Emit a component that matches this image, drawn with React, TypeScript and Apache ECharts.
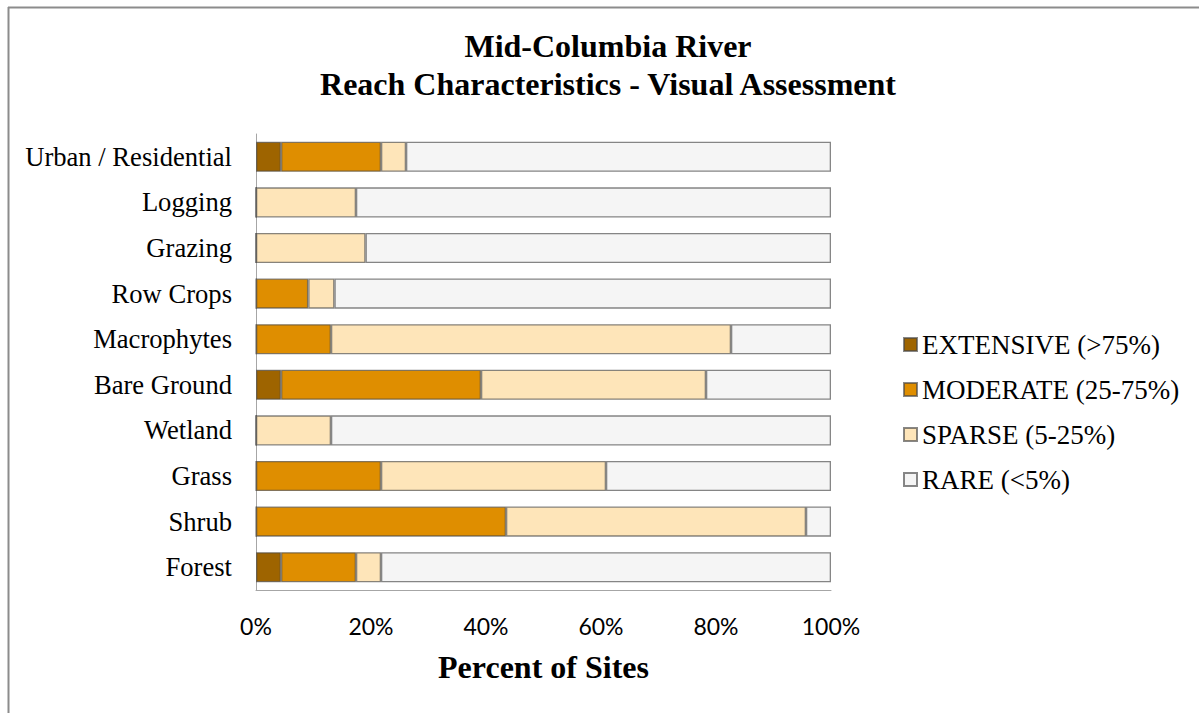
import React, { useEffect, useRef } from "react";
import * as echarts from "echarts";

const categories = [
  "Urban / Residential",
  "Logging",
  "Grazing",
  "Row Crops",
  "Macrophytes",
  "Bare Ground",
  "Wetland",
  "Grass",
  "Shrub",
  "Forest",
];

const extensive = [4.35, 0, 0, 0, 0, 4.35, 0, 0, 0, 4.35];
const moderate = [17.39, 0, 0, 9.09, 13.04, 34.78, 0, 21.74, 43.48, 13.04];
const sparse = [4.35, 17.39, 19.05, 4.55, 69.57, 39.13, 13.04, 39.13, 52.17, 4.35];
const rare = [73.91, 82.61, 80.95, 86.36, 17.39, 21.74, 86.96, 39.13, 4.35, 78.26];

const xTicks = [0, 20, 40, 60, 80, 100];

const seriesNames = ["EXTENSIVE (>75%)", "MODERATE (25-75%)", "SPARSE (5-25%)", "RARE (<5%)"];
const seriesColors = ["#9E6400", "#DF8E00", "#FEE5B9", "#F5F5F5"];
const seriesData = [extensive, moderate, sparse, rare];

const SERIF = "'Liberation Serif', 'Times New Roman', serif";
const SANS = "Lato, 'Liberation Sans', sans-serif";

export default function App() {
  const ref = useRef<HTMLDivElement>(null);
  useEffect(() => {
    if (!ref.current) return;
    const chart = echarts.init(ref.current, null, { renderer: "svg" });
    chart.setOption({
      animation: false,
      backgroundColor: "#ffffff",
      title: {
        text: "Mid-Columbia River\nReach Characteristics - Visual Assessment",
        left: 603,
        top: 22,
        textAlign: "center",
        textStyle: {
          fontFamily: SERIF,
          fontSize: 32,
          fontWeight: "bold",
          lineHeight: 38,
          color: "#000",
        },
      },
      legend: {
        orient: "vertical",
        left: 898,
        top: 326,
        itemWidth: 13,
        itemHeight: 13,
        itemGap: 18,
        icon: "rect",
        textStyle: { fontFamily: SERIF, fontSize: 27, lineHeight: 27, color: "#000", padding: [0, 0, 0, 0] },
        data: seriesNames,
      },
      grid: { left: 256, right: 368, top: 134, bottom: 123, containLabel: false },
      xAxis: {
        type: "value",
        min: 0,
        max: 100,
        interval: 20,
        axisLine: { show: true, lineStyle: { color: "#a6a6a6", width: 1 } },
        axisTick: { show: false },
        splitLine: { show: false },
        axisLabel: {
          formatter: (v: number) => (xTicks.includes(v) ? v + "%" : ""),
          fontFamily: SANS,
          fontSize: 23,
          color: "#000",
          margin: 24,
        },
        name: "Percent of Sites",
        nameLocation: "middle",
        nameGap: 61,
        nameTextStyle: { fontFamily: SERIF, fontSize: 32, fontWeight: "bold", color: "#000" },
      },
      yAxis: {
        type: "category",
        data: categories,
        inverse: true,
        axisLine: { show: true, lineStyle: { color: "#a6a6a6", width: 1 } },
        axisTick: { show: false },
        axisLabel: { fontFamily: SERIF, fontSize: 26.6, color: "#000", margin: 24 },
      },
      series: seriesNames.map((name, i) => ({
        name,
        type: "bar",
        stack: "total",
        barCategoryGap: "34%",
        data: seriesData[i],
        itemStyle: {
          color: seriesColors[i],
          borderColor: "rgba(70,70,70,0.65)",
          borderWidth: 1.3,
        },
      })),
      graphic: [
        {
          type: "line",
          shape: { x1: 8, y1: 7.5, x2: 1199, y2: 7.5 },
          style: { stroke: "#8c8c8c", lineWidth: 2 },
        },
        {
          type: "line",
          shape: { x1: 8.5, y1: 7, x2: 8.5, y2: 713 },
          style: { stroke: "#8c8c8c", lineWidth: 2 },
        },
      ],
    });
    return () => chart.dispose();
  }, []);
  return (
    <div
      ref={ref}
      style={{ position: "fixed", left: 0, top: 0, width: 1199, height: 713 }}
    />
  );
}
